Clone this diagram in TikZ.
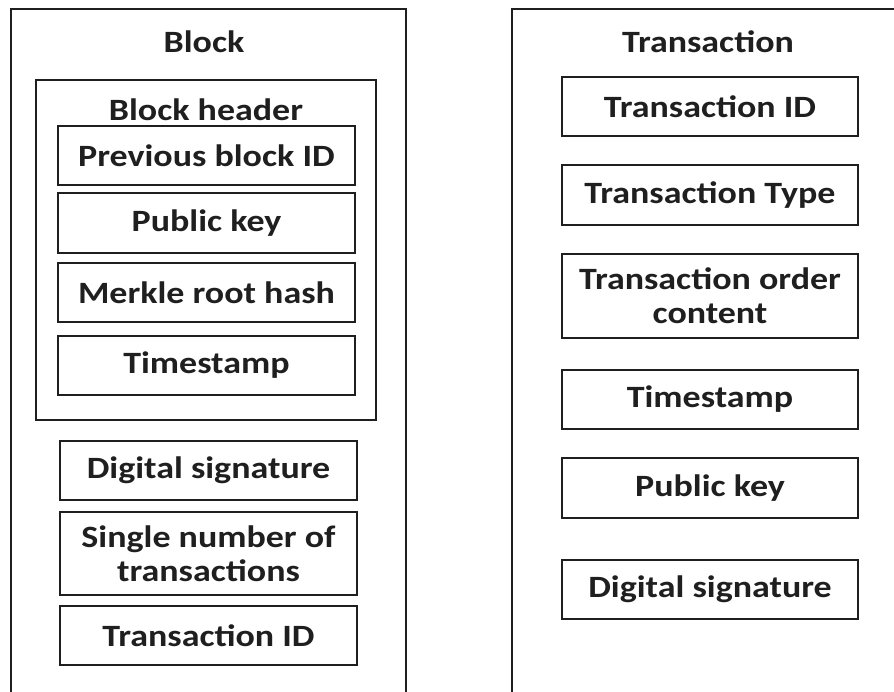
\documentclass[tikz,border=0pt]{standalone}
\usepackage{fontspec}
\setmainfont{Carlito}[FakeStretch=1.16]
\begin{document}
\begin{tikzpicture}[x=1pt,y=-1pt,
  frame/.style={draw=black!88,line width=1.8pt},
  field/.style={draw=black!88,line width=1.8pt,rectangle,inner sep=0pt,
    align=center,font=\fontsize{31}{34}\selectfont\bfseries,text=black!88},
  title/.style={inner sep=0pt,font=\fontsize{31}{34}\selectfont\bfseries,text=black!88}]
\useasboundingbox (0,0) rectangle (894,692);

% Block column (open at the bottom)
\draw[frame] (11,692) -- (11,9) -- (406,9) -- (406,692);
\node[title] (blk) at (204,42) {Block};
\draw[frame] (36,80) rectangle (376,420);
\node[title] (hdr) at (206,110) {Block header};

\node[field,minimum width=297pt,minimum height=59pt] (prev)   at (206.5,155.5) {Previous block ID};
\node[field,minimum width=297pt,minimum height=60pt] (pubk)   at (206.5,223)   {Public key};
\node[field,minimum width=297pt,minimum height=59pt] (merk)   at (206.5,292.5) {Merkle root hash};
\node[field,minimum width=297pt,minimum height=59pt] (tstamp) at (206.5,365.5) {Timestamp};

\node[field,minimum width=297pt,minimum height=59pt] (dsig)   at (208.5,470.5) {Digital signature};
\node[field,minimum width=297pt,minimum height=83pt] (single) at (208.5,553.5) {Single number of\\transactions};
\node[field,minimum width=297pt,minimum height=59pt] (btxid)  at (208.5,635.5) {Transaction ID};

% Transaction column (open at the bottom and right)
\draw[frame] (512,692) -- (512,9) -- (894,9);
\node[title] (trn) at (708,42) {Transaction};

\node[field,minimum width=296pt,minimum height=59pt] (ttxid)  at (710,106.5) {Transaction ID};
\node[field,minimum width=296pt,minimum height=60pt] (ttype)  at (710,195)   {Transaction Type};
\node[field,minimum width=296pt,minimum height=84pt] (torder) at (710,296)   {Transaction order\\content};
\node[field,minimum width=296pt,minimum height=59pt] (tts)    at (710,399.5) {Timestamp};
\node[field,minimum width=296pt,minimum height=60pt] (tpk)    at (710,488)   {Public key};
\node[field,minimum width=296pt,minimum height=59pt] (tds)    at (710,589.5) {Digital signature};
\end{tikzpicture}
\end{document}
